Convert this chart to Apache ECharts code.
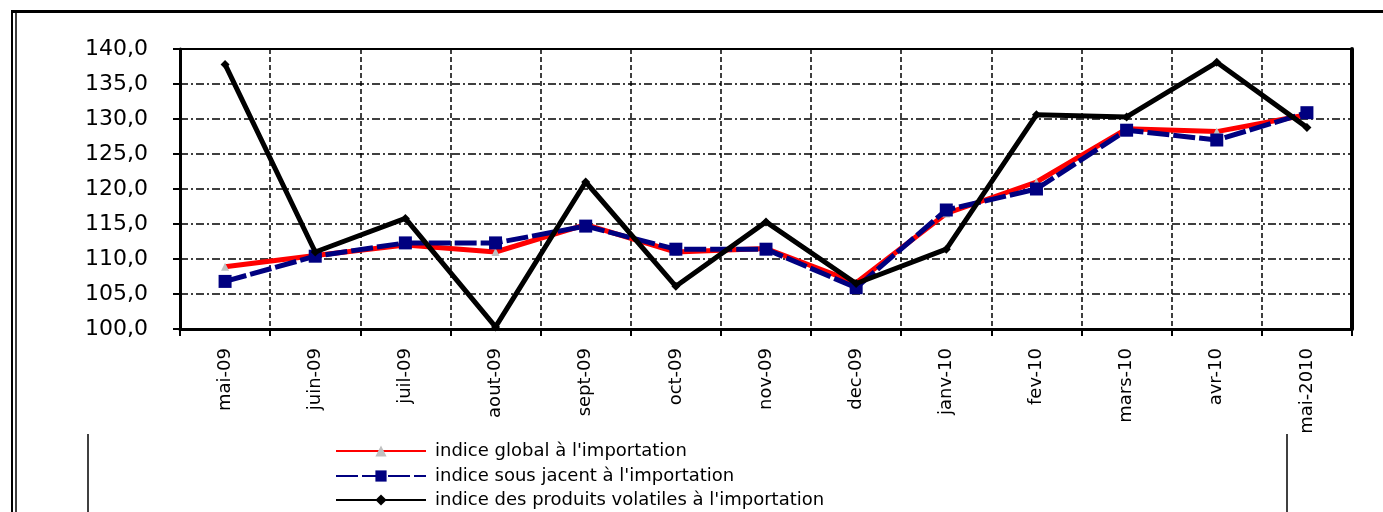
<!DOCTYPE html>
<html>
<head>
<meta charset="utf-8">
<script src="https://cdn.jsdelivr.net/npm/echarts@6/dist/echarts.min.js"></script>
<style>
html,body{margin:0;padding:0;background:#fff;}
#chart{width:1383px;height:512px;}
</style>
</head>
<body>
<div id="chart"></div>
<script>
const categories = ['mai-09','juin-09','juil-09','aout-09','sept-09','oct-09','nov-09','dec-09','janv-10','fev-10','mars-10','avr-10','mai-2010'];
const indiceGlobal = [108.9,110.5,112.0,111.0,114.9,111.0,111.5,106.6,116.5,121.0,128.6,128.2,130.6];
const indiceSousJacent = [106.8,110.4,112.3,112.3,114.7,111.4,111.4,105.9,117.0,120.0,128.4,127.0,130.9];
const indiceVolatiles = [137.8,111.0,115.8,100.3,121.0,106.1,115.3,106.5,111.4,130.6,130.3,138.1,128.8];
const seriesNames = ["indice global à l'importation","indice sous jacent à l'importation","indice des produits volatiles à l'importation"];

const chart = echarts.init(document.getElementById('chart'));
const dashDot = [8,3,2,3];
const legendRowTops = [442,467,491];
chart.setOption({
  backgroundColor:'#fff',
  animation:false,
  grid:{left:180,right:31,top:49,bottom:183,show:true,borderColor:'#000',borderWidth:2,backgroundColor:'transparent'},
  xAxis:{
    type:'category',data:categories,boundaryGap:true,
    axisLine:{show:true,lineStyle:{color:'#000',width:3}},
    axisTick:{show:true,interval:0,length:7,lineStyle:{color:'#000',width:2}},
    splitLine:{show:true,interval:0,lineStyle:{color:'#000',width:1.5,type:[5,3]}},
    axisLabel:{rotate:90,interval:0,margin:19,color:'#000',fontSize:18,fontFamily:'DejaVu Sans'}
  },
  yAxis:[{
    type:'value',min:100,max:140,interval:5,
    axisLine:{show:true,lineStyle:{color:'#000',width:3}},
    axisTick:{show:true,length:7,lineStyle:{color:'#000',width:2}},
    splitLine:{show:true,lineStyle:{color:'#000',width:1.5,type:dashDot}},
    axisLabel:{margin:32,color:'#000',fontSize:22,fontFamily:'DejaVu Sans',formatter:v=>v.toFixed(1).replace('.',',')}
  },{
    type:'value',min:100,max:140,interval:5,position:'right',
    axisLine:{show:true,lineStyle:{color:'#000',width:4}},
    axisTick:{show:false},axisLabel:{show:false},splitLine:{show:false}
  }],
  legend:seriesNames.map((n,i)=>({
    orient:'horizontal',left:335,top:legendRowTops[i],padding:0,itemWidth:90,itemHeight:14,
    textStyle:{color:'#000',fontSize:18,fontFamily:'DejaVu Sans',padding:[0,0,0,4]},
    data:[n]
  })),
  series:[
    {name:seriesNames[0],type:'line',data:indiceGlobal,z:2,
     lineStyle:{color:'#ff0000',width:5},itemStyle:{color:'#c0c0c0'},
     symbol:'triangle',symbolSize:8,showAllSymbol:true},
    {name:seriesNames[1],type:'line',data:indiceSousJacent,z:3,
     lineStyle:{color:'#000080',width:5,type:[22,4]},itemStyle:{color:'#000080'},
     symbol:'rect',symbolSize:13,showAllSymbol:true},
    {name:seriesNames[2],type:'line',data:indiceVolatiles,z:4,
     lineStyle:{color:'#000',width:5},itemStyle:{color:'#000'},
     symbol:'diamond',symbolSize:9,showAllSymbol:true}
  ],
  graphic:[
    {type:'line',shape:{x1:12,y1:10,x2:12,y2:512},style:{stroke:'#000',lineWidth:2}},
    {type:'line',shape:{x1:16,y1:10,x2:16,y2:512},style:{stroke:'#000',lineWidth:1.5}},
    {type:'line',shape:{x1:11,y1:11.5,x2:1383,y2:11.5},style:{stroke:'#000',lineWidth:3}},
    {type:'line',shape:{x1:88,y1:434,x2:88,y2:512},style:{stroke:'#000',lineWidth:1.5}},
    {type:'line',shape:{x1:1287,y1:434,x2:1287,y2:512},style:{stroke:'#000',lineWidth:1.5}}
  ]
});
</script>
</body>
</html>
